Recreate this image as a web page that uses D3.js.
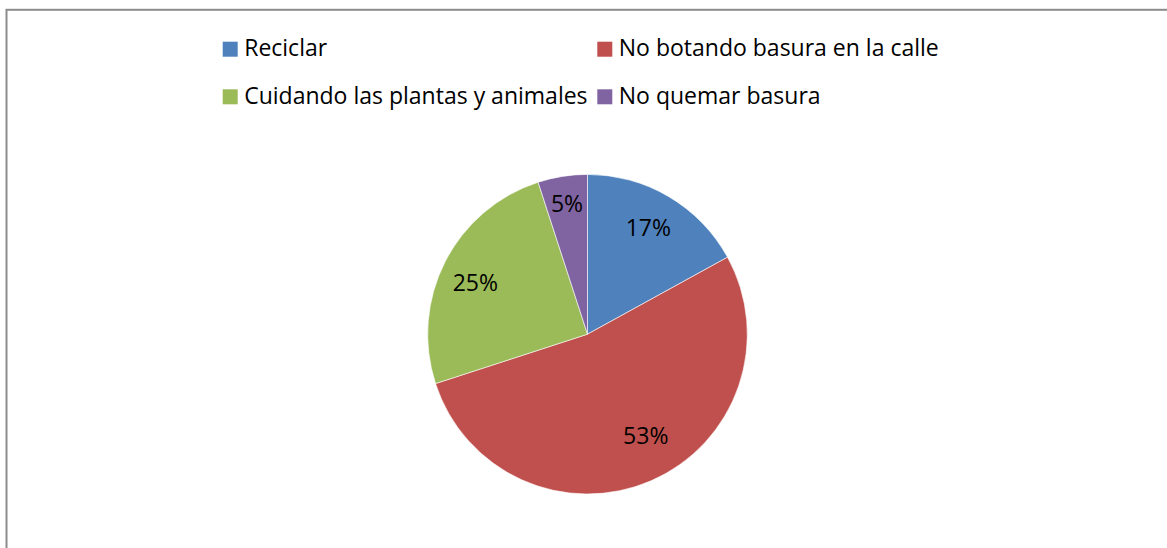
<!DOCTYPE html>
<html><head><meta charset="utf-8">
<script src="https://cdn.jsdelivr.net/npm/d3@7"></script>
<style>html,body{margin:0;padding:0;background:#fff;overflow:hidden}</style>
</head><body>
<svg id="chart" width="1167" height="548"></svg>
<script>
const categories = ["Reciclar", "No botando basura en la calle", "Cuidando las plantas y animales", "No quemar basura"];
const values = [17, 53, 25, 5];
const colors = ["#4F81BD", "#C0504D", "#9BBB59", "#8064A2"];
const labels = ["17%", "53%", "25%", "5%"];

const svg = d3.select("#chart");
const font = "'Open Sans', sans-serif";

svg.append("rect").attr("x", 6.5).attr("y", 9.8).attr("width", 1200).attr("height", 600)
  .attr("fill", "#fff").attr("stroke", "#8c8c8c").attr("stroke-width", 2);

const cx = 587.5, cy = 334.2, r = 159.8;
const pie = d3.pie().sort(null).value(d => d)(values);
const arc = d3.arc().innerRadius(0).outerRadius(r);
const labelArc = d3.arc().innerRadius(r * 0.76).outerRadius(r * 0.76);
// best-fit style nudges of the data labels (layout only)
const nudge = [[-1, -2], [10, -10], [-4, 3], [-1.5, -11]];
const g = svg.append("g").attr("transform", `translate(${cx},${cy})`);
g.selectAll("path").data(pie).join("path")
  .attr("d", arc).attr("fill", (d, i) => colors[i])
  .attr("stroke", "#fff").attr("stroke-width", 0.6);
g.selectAll("text").data(pie).join("text")
  .attr("transform", (d, i) => {
    const [x, y] = labelArc.centroid(d);
    return `translate(${x + nudge[i][0]},${y + nudge[i][1] + 8.5})`;
  })
  .attr("text-anchor", "middle")
  .attr("font-family", font).attr("font-size", 23).attr("fill", "#000")
  .text((d, i) => labels[i]);

// legend
const colX = [222.7, 597.3];
const rowY = [41.7, 89.3];
const leg = svg.append("g");
categories.forEach((c, i) => {
  const x = colX[i % 2], y = rowY[Math.floor(i / 2)];
  leg.append("rect").attr("x", x).attr("y", y).attr("width", 15).attr("height", 15).attr("fill", colors[i]);
  leg.append("text").attr("x", x + 21.5).attr("y", y + 14.5)
    .attr("font-family", font).attr("font-size", 23).attr("fill", "#000").text(c);
});
</script>
</body></html>
